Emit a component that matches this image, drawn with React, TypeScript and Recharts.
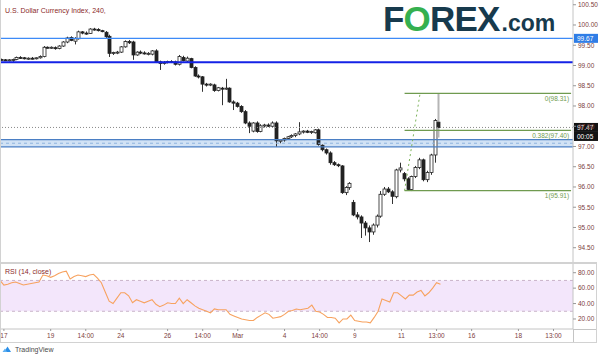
import React from "react";
import { ComposedChart, Bar, Line, XAxis, YAxis, ReferenceLine, ReferenceArea } from "recharts";

// 4h candles, Feb 14 -> Mar 12 (index = slot on the time axis)
const opens = [
  99.15, 99.14, 99.13, 99.14, 99.15, 99.2, 99.19, 99.17, 99.18, 99.17,
  99.19, 99.22, 99.45, 99.44, 99.44, 99.42, 99.48, 99.58, 99.69, 99.6,
  99.66, 99.83, 99.8, 99.79, 99.9, 99.89, 99.86, 99.82, 99.72, 99.3,
  99.32, 99.33, 99.46, 99.59, 99.58, 99.26, 99.33, 99.31, 99.29, 99.28,
  99.36, 99.09, 99.05, 99.08, 99.1, 99.09, 99.03, 99.2, 99.11, 99.17,
  98.95, 98.74, 98.72, 98.54, 98.52, 98.52, 98.38, 98.44, 98.42, 98.44,
  98.1, 98.07, 97.99, 97.86, 97.58, 97.38, 97.58, 97.37, 97.51, 97.53,
  97.5, 97.58, 97.13, 97.16, 97.2, 97.24, 97.27, 97.31, 97.36, 97.38,
  97.35, 97.34, 97.41, 97.03, 96.92, 96.84, 96.6, 96.55, 96.52, 95.86,
  95.99, 95.62, 95.31, 95.26, 95.11, 94.99, 94.89, 95.06, 95.28, 95.82,
  95.95, 95.88, 95.76, 96.42, 96.33, 96.2, 95.94, 96.26, 96.48, 96.67,
  96.18, 96.36, 96.79, 97.6,
];
const highs = [
  99.17, 99.16, 99.16, 99.17, 99.22, 99.23, 99.21, 99.2, 99.21, 99.2,
  99.25, 99.48, 99.47, 99.47, 99.47, 99.5, 99.6, 99.71, 99.72, 99.7,
  99.86, 99.85, 99.84, 99.92, 99.93, 99.92, 99.88, 99.85, 99.76, 99.34,
  99.36, 99.48, 99.62, 99.63, 99.61, 99.35, 99.37, 99.35, 99.33, 99.38,
  99.4, 99.12, 99.11, 99.12, 99.13, 99.12, 99.26, 99.24, 99.22, 99.19,
  98.98, 98.78, 98.74, 98.57, 98.56, 98.55, 98.47, 98.47, 98.67, 98.46,
  98.14, 98.1, 98.02, 97.9, 97.62, 97.6, 97.62, 97.55, 97.56, 97.57,
  97.62, 97.62, 97.18, 97.22, 97.26, 97.3, 97.33, 97.6, 97.4, 97.41,
  97.39, 97.43, 97.44, 97.05, 96.95, 96.88, 96.64, 96.58, 96.54, 96.02,
  96.12, 95.68, 95.38, 95.3, 95.16, 95.05, 95.1, 95.32, 95.9, 96.0,
  96.0, 95.92, 96.45, 96.6, 96.37, 96.24, 96.28, 96.52, 96.72, 96.7,
  96.4, 96.82, 97.68, 98.31,
];
const lows = [
  99.12, 99.11, 99.1, 99.09, 99.13, 99.16, 99.15, 99.14, 99.15, 99.15,
  99.17, 99.2, 99.42, 99.41, 99.39, 99.4, 99.46, 99.55, 99.6, 99.52,
  99.64, 99.77, 99.76, 99.78, 99.86, 99.84, 99.82, 99.68, 99.21, 99.26,
  99.28, 99.31, 99.44, 99.53, 99.14, 99.24, 99.28, 99.27, 99.25, 99.25,
  99.06, 98.89, 99.02, 99.05, 99.06, 99.0, 99.0, 99.1, 99.07, 98.93,
  98.72, 98.68, 98.35, 98.48, 98.49, 98.35, 98.36, 98.02, 98.4, 98.08,
  97.9, 97.96, 97.83, 97.55, 97.33, 97.35, 97.34, 97.35, 97.47, 97.48,
  97.48, 96.99, 97.08, 97.12, 97.17, 97.21, 97.23, 97.28, 97.32, 97.33,
  97.31, 97.32, 97.02, 96.88, 96.8, 96.55, 96.52, 96.49, 95.83, 95.8,
  95.93, 95.28, 95.2, 94.74, 94.8, 94.64, 94.82, 95.0, 95.24, 95.78,
  95.85, 95.58, 95.72, 96.36, 96.14, 95.91, 95.9, 96.22, 96.44, 96.14,
  96.12, 96.3, 96.6, 97.22,
];
const closes = [
  99.14, 99.13, 99.14, 99.15, 99.2, 99.19, 99.17, 99.18, 99.17, 99.19,
  99.22, 99.45, 99.44, 99.45, 99.42, 99.48, 99.58, 99.68, 99.62, 99.66,
  99.83, 99.8, 99.79, 99.9, 99.89, 99.86, 99.84, 99.71, 99.3, 99.32,
  99.33, 99.46, 99.59, 99.56, 99.26, 99.33, 99.31, 99.29, 99.3, 99.36,
  99.09, 99.05, 99.08, 99.1, 99.09, 99.03, 99.22, 99.12, 99.18, 98.95,
  98.74, 98.72, 98.54, 98.52, 98.54, 98.38, 98.45, 98.42, 98.44, 98.1,
  98.07, 97.99, 97.86, 97.58, 97.5, 97.58, 97.37, 97.51, 97.53, 97.5,
  97.58, 97.14, 97.16, 97.2, 97.24, 97.27, 97.31, 97.36, 97.38, 97.35,
  97.37, 97.41, 97.05, 96.92, 96.84, 96.6, 96.55, 96.53, 95.86, 95.99,
  96.09, 95.31, 95.26, 95.11, 94.99, 94.89, 95.06, 95.28, 95.82, 95.95,
  95.88, 95.77, 96.42, 96.47, 96.2, 95.94, 96.26, 96.48, 96.67, 96.18,
  96.36, 96.79, 97.64, 97.47,
];
const rsi = [
  70, 64, 65, 67, 68, 66, 64, 65, 66, 67,
  68, 77, 76, 74, 76, 79, 81, 82, 72, 75,
  77, 76, 75, 77, 78, 73, 67, 55, 43, 40,
  47, 54, 54, 50, 41, 45, 43, 41, 43, 45,
  39, 36, 38, 41, 40, 40, 47, 40, 45, 41,
  37, 34, 32, 30, 28, 33, 32, 32, 32, 26,
  24, 22, 20, 19, 18, 18, 22, 25, 28, 26,
  21, 22, 23, 26, 30, 31, 33, 32, 33, 34,
  38, 30, 29, 26, 22, 22, 21, 15, 20, 20,
  25, 18, 17, 16, 16, 15, 22, 30, 46, 44,
  42, 54, 54, 50, 46, 51, 51, 55, 57, 50,
  54, 60, 67, 65,
];

const timeTickIdx = [1, 13, 22, 31, 43, 52, 61, 73, 82, 91, 103, 112, 121, 133, 142];
const timeTickLabels = ["17", "19", "14:00", "24", "26", "14:00", "Mar", "4", "14:00", "9", "11", "13:00", "16", "18", "13:00"];
const priceTicks = [94.5, 95, 95.5, 96, 96.5, 97, 97.5, 98, 98.5, 99, 99.5, 100, 100.5];
const rsiTicks = [20, 40, 60, 80];

// fib drawn from the 95.91 low to the 98.31 high
const fibLevels = [
  { name: "0(98.31)", value: 98.31 },
  { name: "0.382(97.40)", value: 97.4 },
  { name: "1(95.91)", value: 95.91 },
];

const SLOTS = 148;
const FONT = "'Liberation Sans', Arial, sans-serif";
const AXIS_TXT = "#7d4040";
const GRID = "#d2d2d2";

const rows = Array.from({ length: SLOTS }, (_, i) => ({
  i,
  o: i < opens.length ? opens[i] : null,
  h: i < highs.length ? highs[i] : null,
  l: i < lows.length ? lows[i] : null,
  c: i < closes.length ? closes[i] : null,
  rsi: i < rsi.length ? rsi[i] : null,
}));

const Candle = (props: any) => {
  const { x, y, width, height, payload, index } = props;
  if (!payload || payload.o == null) return null;
  const top = Math.min(y, y + height);
  const bot = Math.max(y, y + height);
  const span = payload.h - payload.l || 1;
  const toY = (v: number) => top + ((payload.h - v) / span) * (bot - top);
  const up = payload.c >= payload.o;
  const cx = Math.floor(x + width / 2) + 0.5;
  const y1 = toY(Math.max(payload.o, payload.c));
  const y2 = toY(Math.min(payload.o, payload.c));
  const last = index === closes.length - 1;
  return (
    <g>
      <line x1={cx} x2={cx} y1={top} y2={bot} stroke={last ? "#b5b5b5" : "#333"} strokeWidth={last ? 2 : 1} />
      <rect
        x={cx - 1.5}
        y={y1}
        width={3}
        height={Math.max(y2 - y1, 1)}
        fill={up ? "#fff" : "#222"}
        stroke="#222"
        strokeWidth={0.8}
      />
    </g>
  );
};

const PriceTag = (props: any) => {
  const { viewBox, tags } = props;
  if (!viewBox) return null;
  const x = viewBox.x + viewBox.width + 1;
  return (
    <g>
      {tags.map((t: any, k: number) => (
        <g key={k}>
          <rect x={x} y={viewBox.y - 4.5 + k * 9} width={24} height={9} fill={t.bg} />
          <text x={x + 3} y={viewBox.y + 2.3 + k * 9} fill="#fff" fontSize={6.5} fontFamily={FONT}>
            {t.text}
          </text>
        </g>
      ))}
    </g>
  );
};

const FibLabel = (props: any) => {
  const { viewBox, text } = props;
  if (!viewBox) return null;
  return (
    <text
      x={viewBox.x + viewBox.width - 2}
      y={viewBox.y + 7.5}
      textAnchor="end"
      fill="#6f9a4f"
      fontSize={6.5}
      fontFamily={FONT}
    >
      {text}
    </text>
  );
};

const axisTick = { fontSize: 6.5, fill: AXIS_TXT, fontFamily: FONT };

export default function App() {
  const lastIdx = SLOTS - 1;
  return (
    <div style={{ position: "absolute", left: 0, top: 0, width: 600, height: 359, background: "#fff", overflow: "hidden" }}>
      <div style={{ position: "absolute", left: 0, top: 0 }}>
        <ComposedChart width={600} height={263} data={rows} margin={{ top: 0, right: 0, bottom: 0, left: 0 }}>
          <XAxis dataKey="i" type="category" hide />
          <YAxis
            orientation="right"
            width={27}
            domain={[94.123, 100.617]}
            allowDataOverflow
            ticks={priceTicks}
            tickFormatter={(v: number) => v.toFixed(2)}
            tick={axisTick}
            tickSize={3}
            tickMargin={2}
            axisLine={{ stroke: "#c4c4c4" }}
            tickLine={{ stroke: "#999" }}
            interval={0}
          />
          <ReferenceArea y1={96.99} y2={97.17} fill="#c5dbf3" fillOpacity={0.8} stroke="none" />
          <ReferenceLine y={97.17} stroke="#4b7fc4" strokeWidth={1.4} />
          <ReferenceLine y={96.99} stroke="#4b7fc4" strokeWidth={1.4} />
          <ReferenceLine y={97.08} stroke="#8fb3de" strokeDasharray="3 3" />
          <ReferenceLine
            y={99.67}
            stroke="#3d8af7"
            strokeWidth={1.3}
            label={<PriceTag tags={[{ text: "99.67", bg: "#2f7de6" }]} />}
          />
          <ReferenceLine y={99.08} stroke="#1422e6" strokeWidth={1.8} />
          <ReferenceLine
            y={97.47}
            stroke="#888"
            strokeDasharray="1 2"
            label={<PriceTag tags={[{ text: "97.47", bg: "#131313" }, { text: "00:05", bg: "#131313" }]} />}
          />
          {fibLevels.map((f) => (
            <ReferenceLine
              key={f.name}
              segment={[{ x: 104, y: f.value }, { x: lastIdx, y: f.value }]}
              stroke="#6f9a4f"
              strokeWidth={1.2}
              label={<FibLabel text={f.name} />}
            />
          ))}
          <ReferenceLine
            segment={[{ x: 104, y: 95.91 }, { x: 108, y: 98.31 }]}
            stroke="#7cb35a"
            strokeDasharray="2 3"
          />
          <Bar
            dataKey={(d: any) => (d.h == null ? null : [d.l, d.h])}
            shape={<Candle />}
            isAnimationActive={false}
            barSize={3}
          />
        </ComposedChart>
      </div>

      <div style={{ position: "absolute", left: 0, top: 263 }}>
        <ComposedChart width={600} height={80} data={rows} margin={{ top: 0, right: 0, bottom: 0, left: 0 }}>
          <XAxis
            dataKey="i"
            type="category"
            height={14}
            ticks={timeTickIdx}
            interval={0}
            tickFormatter={(v: number) => timeTickLabels[timeTickIdx.indexOf(v)] ?? ""}
            tick={axisTick}
            tickSize={2}
            tickMargin={2}
            axisLine={{ stroke: "#c4c4c4" }}
            tickLine={{ stroke: "#999" }}
          />
          <YAxis
            orientation="right"
            width={27}
            domain={[7, 92.6]}
            allowDataOverflow
            ticks={rsiTicks}
            tickFormatter={(v: number) => v.toFixed(2)}
            tick={axisTick}
            tickSize={3}
            tickMargin={2}
            axisLine={{ stroke: "#c4c4c4" }}
            tickLine={{ stroke: "#999" }}
            interval={0}
          />
          <ReferenceArea y1={30} y2={70} fill="#f3e6fb" fillOpacity={1} stroke="none" />
          <ReferenceLine y={70} stroke="#c9b4c9" strokeDasharray="3 3" />
          <ReferenceLine y={30} stroke="#c9b4c9" strokeDasharray="3 3" />
          <Line
            dataKey="rsi"
            stroke="#f7a25f"
            strokeWidth={1.1}
            dot={false}
            isAnimationActive={false}
          />
        </ComposedChart>
      </div>

      {/* frame lines */}
      <div style={{ position: "absolute", left: 0, top: 0, width: 1, height: 343, background: GRID }} />
      <div style={{ position: "absolute", left: 0, top: 262, width: 597, height: 2, background: GRID }} />
      <div style={{ position: "absolute", left: 573, top: 329, width: 24, height: 1, background: "#c4c4c4" }} />
      <div style={{ position: "absolute", left: 573, top: 329, width: 1, height: 14, background: "#c4c4c4" }} />
      <div style={{ position: "absolute", left: 596, top: 263, width: 1, height: 80, background: GRID }} />
      <div style={{ position: "absolute", left: 0, top: 342, width: 597, height: 1, background: GRID }} />

      {/* titles */}
      <div style={{ position: "absolute", left: 5, top: 7, fontFamily: FONT, fontSize: 7, color: "#8b2a2a", whiteSpace: "nowrap" }}>
        U.S. Dollar Currency Index, 240,
      </div>
      <div style={{ position: "absolute", left: 5, top: 268, fontFamily: FONT, fontSize: 7, color: "#8b2a2a", whiteSpace: "nowrap" }}>
        RSI (14, close)
      </div>

      {/* brand logo */}
      <div
        style={{
          position: "absolute",
          left: 383,
          top: 4,
          height: 30,
          lineHeight: "30px",
          fontFamily: FONT,
          fontWeight: 700,
          fontSize: 35,
          color: "#173a4d",
          whiteSpace: "nowrap",
          letterSpacing: -0.8,
        }}
      >
        F<span style={{ color: "#35b04f" }}>O</span>REX
        <span style={{ fontSize: 23, letterSpacing: 0, marginLeft: 2 }}>.com</span>
      </div>

      {/* TradingView mark */}
      <div style={{ position: "absolute", left: 2, top: 345, display: "flex", alignItems: "center", gap: 2 }}>
        <svg width={11} height={8} viewBox="0 0 11 8">
          <path d="M2 7 L5.5 1.5 L9 7 Z" fill="#2b8fe8" />
          <path d="M0.5 7 L3 3.5 L5 7 Z" fill="#5fb0f2" />
        </svg>
        <span style={{ fontFamily: FONT, fontSize: 7, color: "#4a4a4a" }}>TradingView</span>
      </div>
    </div>
  );
}
